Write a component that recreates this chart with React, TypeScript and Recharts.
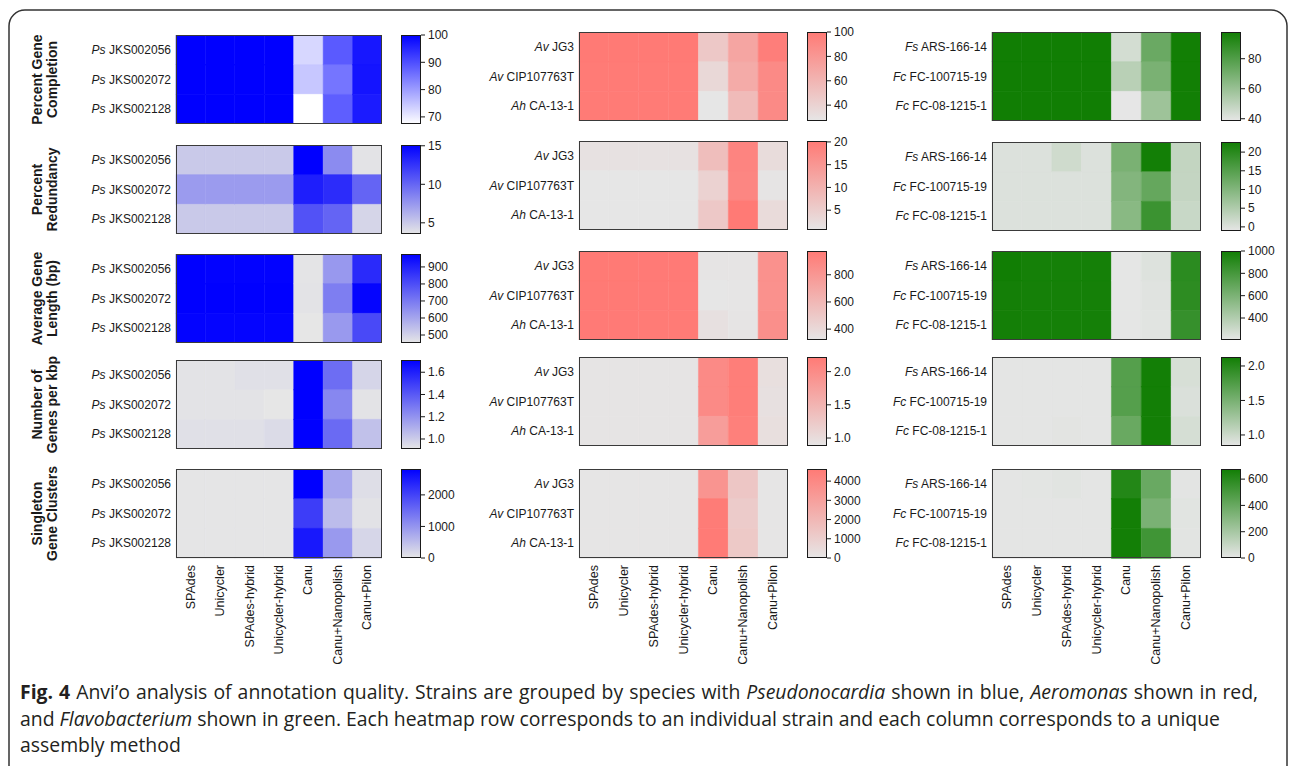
import React from "react";
import { BarChart, Bar, XAxis, YAxis, Cell } from "recharts";

const METHODS = [
  "SPAdes",
  "Unicycler",
  "SPAdes-hybrid",
  "Unicycler-hybrid",
  "Canu",
  "Canu+Nanopolish",
  "Canu+Pilon",
];

const METRICS = [
  ["Percent Gene", "Completion"],
  ["Percent", "Redundancy"],
  ["Average Gene", "Length (bp)"],
  ["Number of", "Genes per kbp"],
  ["Singleton", "Gene Clusters"],
];

// strains (species abbreviation, strain id)
const PS_STRAINS = [["Ps", "JKS002056"], ["Ps", "JKS002072"], ["Ps", "JKS002128"]];
const AE_STRAINS = [["Av", "JG3"], ["Av", "CIP107763T"], ["Ah", "CA-13-1"]];
const FL_STRAINS = [["Fs", "ARS-166-14"], ["Fc", "FC-100715-19"], ["Fc", "FC-08-1215-1"]];

// Pseudonocardia (blue)
const PS_COMPLETION = [
  [100, 100, 100, 100, 72.5, 88.5, 97],
  [100, 100, 100, 100, 74.5, 85, 97.5],
  [100, 100, 100, 100, 67.4, 88, 96.5],
];
const PS_REDUNDANCY = [
  [5.0, 5.0, 5.0, 5.0, 15.1, 8.1, 3.7],
  [7.3, 7.3, 7.3, 7.3, 13.6, 12.9, 10.1],
  [5.0, 5.0, 5.0, 5.0, 11.0, 10.1, 4.4],
];
const PS_LENGTH = [
  [976, 972, 972, 972, 458, 630, 880],
  [976, 976, 976, 976, 460, 690, 965],
  [970, 968, 966, 968, 453, 628, 810],
];
const PS_GENES_KBP = [
  [0.92, 0.92, 0.93, 0.93, 1.71, 1.33, 0.97],
  [0.92, 0.92, 0.92, 0.91, 1.71, 1.24, 0.92],
  [0.93, 0.93, 0.93, 0.95, 1.71, 1.34, 1.04],
];
const PS_SINGLETONS = [
  [10, 10, 10, 10, 2820, 760, 100],
  [10, 10, 10, 10, 2070, 520, 50],
  [10, 10, 10, 10, 2530, 950, 200],
];
const PS_RANGES = [[67.4, 100], [3.55, 15.1], [453, 976], [0.91, 1.71], [0, 2820]];
const PS_TICKS = [[70, 80, 90, 100], [5, 10, 15], [500, 600, 700, 800, 900], [1.0, 1.2, 1.4, 1.6], [0, 1000, 2000]];

// Aeromonas (red)
const AE_COMPLETION = [
  [100, 100, 100, 100, 47, 71, 97],
  [99.5, 99.5, 99.5, 99.5, 36.5, 67, 89],
  [99.5, 99.5, 99.5, 99.5, 27, 56, 89],
];
const AE_REDUNDANCY = [
  [1.6, 1.6, 1.6, 1.6, 7.9, 18.3, 2.5],
  [0.7, 0.7, 0.7, 0.7, 4.3, 18, 1.0],
  [0.7, 0.7, 0.7, 0.7, 6, 20.2, 2.7],
];
const AE_LENGTH = [
  [975, 975, 972, 972, 330, 330, 837],
  [975, 975, 972, 972, 322, 326, 837],
  [972, 972, 968, 968, 356, 330, 845],
];
const AE_GENES_KBP = [
  [0.9, 0.9, 0.9, 0.9, 2.02, 2.17, 0.97],
  [0.9, 0.9, 0.9, 0.9, 2.02, 2.17, 0.95],
  [0.9, 0.9, 0.9, 0.9, 1.78, 2.15, 0.97],
];
const AE_SINGLETONS = [
  [40, 40, 50, 50, 3520, 1370, 40],
  [30, 60, 50, 40, 4530, 1160, 40],
  [30, 40, 40, 40, 4600, 1250, 40],
];
const AE_RANGES = [[27, 100], [0.65, 20.2], [320, 975], [0.88, 2.22], [0, 4630]];
const AE_TICKS = [[40, 60, 80, 100], [5, 10, 15, 20], [400, 600, 800], [1.0, 1.5, 2.0], [0, 1000, 2000, 3000, 4000]];

// Flavobacterium (green)
const FL_COMPLETION = [
  [97.8, 97.8, 97.8, 97.8, 43.8, 73, 97.5],
  [97.8, 97.8, 97.8, 97.8, 51, 68.7, 97.5],
  [97.8, 97.8, 97.8, 97.8, 38.5, 58.6, 97.5],
];
const FL_REDUNDANCY = [
  [0, 0, 1.5, 0, 11, 22.5, 2.8],
  [0, 0, 0, 0, 10, 13.3, 2.7],
  [0, 0, 0, 0, 9.3, 18, 2.2],
];
const FL_LENGTH = [
  [1000, 985, 985, 985, 205, 235, 903],
  [990, 985, 985, 985, 205, 225, 895],
  [990, 985, 985, 985, 205, 220, 860],
];
const FL_GENES_KBP = [
  [0.85, 0.85, 0.85, 0.85, 1.72, 2.12, 0.93],
  [0.85, 0.85, 0.85, 0.85, 1.72, 2.12, 0.91],
  [0.85, 0.85, 0.86, 0.85, 1.6, 2.12, 0.94],
];
const FL_SINGLETONS = [
  [5, 8, 15, 5, 620, 396, 10],
  [5, 5, 5, 5, 670, 342, 15],
  [5, 5, 5, 5, 670, 527, 12],
];
const FL_RANGES = [[38.5, 97.8], [-1.1, 22.7], [203, 1000], [0.84, 2.13], [0, 677]];
const FL_TICKS = [[40, 60, 80], [0, 5, 10, 15, 20], [400, 600, 800, 1000], [1.0, 1.5, 2.0], [0, 200, 400, 600]];

const GRAY = "#e6e6e6";
const FONT = "'Liberation Sans', Arial, Helvetica, sans-serif";
const CELL_H = 89;
const LABEL_W = 130;
const BAR_W = 20;
const AXIS_H = 112;

const PANELS = [
  {
    key: "ps",
    strains: PS_STRAINS,
    values: [PS_COMPLETION, PS_REDUNDANCY, PS_LENGTH, PS_GENES_KBP, PS_SINGLETONS],
    ranges: PS_RANGES,
    ticks: PS_TICKS,
    high: "#0000ff",
    lows: ["#ffffff", GRAY, GRAY, GRAY, GRAY],
    left: 176,
    width: 206,
    barLeft: 401,
    tops: [35, 145, 254, 360, 469],
  },
  {
    key: "ae",
    strains: AE_STRAINS,
    values: [AE_COMPLETION, AE_REDUNDANCY, AE_LENGTH, AE_GENES_KBP, AE_SINGLETONS],
    ranges: AE_RANGES,
    ticks: AE_TICKS,
    high: "#ff7a75",
    lows: [GRAY, GRAY, GRAY, GRAY, GRAY],
    left: 579,
    width: 209,
    barLeft: 807,
    tops: [32, 141, 251, 357, 469],
  },
  {
    key: "fl",
    strains: FL_STRAINS,
    values: [FL_COMPLETION, FL_REDUNDANCY, FL_LENGTH, FL_GENES_KBP, FL_SINGLETONS],
    ranges: FL_RANGES,
    ticks: FL_TICKS,
    high: "#117e04",
    lows: [GRAY, GRAY, GRAY, GRAY, GRAY],
    left: 992,
    width: 209,
    barLeft: 1221,
    tops: [32, 142, 251, 357, 469],
  },
];

function hexRgb(hex: string) {
  const n = parseInt(hex.slice(1), 16);
  return [(n >> 16) & 255, (n >> 8) & 255, n & 255];
}

function mix(low: string, high: string, t: number) {
  const k = Math.max(0, Math.min(1, t));
  const a = hexRgb(low);
  const b = hexRgb(high);
  const c = a.map((v, i) => Math.round(v + (b[i] - v) * k));
  return `rgb(${c[0]},${c[1]},${c[2]})`;
}

function StrainTick(props: any) {
  const { x, y, payload } = props;
  const [sp, ...rest] = String(payload.value).split(" ");
  return (
    <text x={x} y={y} textAnchor="end" dominantBaseline="central" fontSize={12} fill="#1a1a1a" fontFamily={FONT}>
      <tspan fontStyle="italic">{sp}</tspan>
      <tspan> {rest.join(" ")}</tspan>
    </text>
  );
}

function MethodTick(props: any) {
  const { x, y, payload } = props;
  const name = METHODS[Math.floor(payload.value)];
  return (
    <text
      transform={`translate(${x},${y}) rotate(-90)`}
      textAnchor="end"
      dominantBaseline="central"
      fontSize={12.5}
      fill="#1a1a1a"
      fontFamily={FONT}>
      {name}
    </text>
  );
}

function Heatmap({ strains, values, range, low, high, left, width, top, bottom }: any) {
  const rows = strains.map(([sp, id]: string[], i: number) => {
    const row: any = { name: `${sp} ${id}` };
    METHODS.forEach((_, j) => {
      row[`m${j}`] = 1;
      row[`v${j}`] = values[i][j];
    });
    return row;
  });
  const h = CELL_H + (bottom ? AXIS_H : 0);
  return (
    <div style={{ position: "absolute", left: left - LABEL_W, top, width: LABEL_W + width, height: h }}>
      <BarChart
        width={LABEL_W + width}
        height={h}
        data={rows}
        layout="vertical"
        margin={{ top: 0, right: 0, bottom: 0, left: 0 }}
        barCategoryGap={0}>
        <XAxis
          type="number"
          domain={[0, METHODS.length]}
          hide={!bottom}
          ticks={METHODS.map((_, j) => j + 0.5)}
          interval={0}
          height={AXIS_H}
          tickSize={0}
          tickMargin={7}
          tickLine={false}
          axisLine={false}
          tick={(p: any) => <MethodTick {...p} />}
        />
        <YAxis
          type="category"
          dataKey="name"
          width={LABEL_W}
          interval={0}
          tickSize={0}
          tickMargin={5}
          tickLine={false}
          axisLine={false}
          tick={(p: any) => <StrainTick {...p} />}
        />
        {METHODS.map((_, j) => (
          <Bar key={j} dataKey={`m${j}`} stackId="cells" isAnimationActive={false}>
            {rows.map((r: any, i: number) => (
              <Cell
                key={i}
                fill={mix(low, high, (r[`v${j}`] - range[0]) / (range[1] - range[0]))}
                stroke={mix(low, high, (r[`v${j}`] - range[0]) / (range[1] - range[0]))}
                strokeWidth={0.5}
              />
            ))}
          </Bar>
        ))}
      </BarChart>
      <div
        style={{
          position: "absolute",
          left: LABEL_W,
          top: 0,
          width,
          height: CELL_H,
          border: "1.5px solid #3a3a3a",
          boxSizing: "border-box",
          pointerEvents: "none",
        }}
      />
    </div>
  );
}

function ColorBar({ id, range, ticks, low, high, left, top, decimals }: any) {
  const pad = 8;
  return (
    <div style={{ position: "absolute", left, top: top - pad }}>
      <BarChart
        width={BAR_W + 50}
        height={CELL_H + pad * 2}
        data={[{ name: "scale", span: range }]}
        margin={{ top: pad, right: 0, bottom: pad, left: 0 }}
        barCategoryGap={0}>
        <defs>
          <linearGradient id={id} x1="0" y1="0" x2="0" y2="1">
            <stop offset="0%" stopColor={high} />
            <stop offset="100%" stopColor={low} />
          </linearGradient>
        </defs>
        <XAxis dataKey="name" hide />
        <YAxis
          orientation="right"
          type="number"
          domain={range}
          ticks={ticks}
          interval={0}
          allowDataOverflow
          width={50}
          tickSize={4}
          tickMargin={3}
          axisLine={false}
          tickLine={{ stroke: "#1a1a1a" }}
          tick={{ fontSize: 12, fill: "#1a1a1a", fontFamily: FONT }}
          tickFormatter={(v: number) => (decimals ? v.toFixed(1) : String(v))}
        />
        <Bar dataKey="span" fill={`url(#${id})`} isAnimationActive={false} />
      </BarChart>
      <div
        style={{
          position: "absolute",
          left: 0,
          top: pad,
          width: BAR_W,
          height: CELL_H,
          border: "1.5px solid #1a1a1a",
          boxSizing: "border-box",
          pointerEvents: "none",
        }}
      />
    </div>
  );
}

export default function App() {
  const blueTops = PANELS[0].tops;
  return (
    <div
      style={{
        position: "absolute",
        left: 0,
        top: 0,
        width: 1290,
        height: 766,
        overflow: "hidden",
        background: "#fff",
        fontFamily: FONT,
      }}>
      <svg width={1290} height={766} style={{ position: "absolute", left: 0, top: 0 }}>
        <rect x={9} y={10} width={1278} height={772} rx={16} fill="none" stroke="#333" strokeWidth={1.5} />
        {METRICS.map((lines, m) => (
          <text
            key={m}
            transform={`translate(44.5,${blueTops[m] + CELL_H / 2}) rotate(-90)`}
            textAnchor="middle"
            fontWeight="bold"
            fontSize={14}
            fill="#1a1a1a"
            fontFamily={FONT}>
            <tspan x={0} y={-2.5}>{lines[0]}</tspan>
            <tspan x={0} y={12.5}>{lines[1]}</tspan>
          </text>
        ))}
      </svg>

      {PANELS.map((p) =>
        METRICS.map((_, m) => (
          <React.Fragment key={`${p.key}-${m}`}>
            <Heatmap
              strains={p.strains}
              values={p.values[m]}
              range={p.ranges[m]}
              low={p.lows[m]}
              high={p.high}
              left={p.left}
              width={p.width}
              top={p.tops[m]}
              bottom={m === METRICS.length - 1}
            />
            <ColorBar
              id={`grad-${p.key}-${m}`}
              range={p.ranges[m]}
              ticks={p.ticks[m]}
              low={p.lows[m]}
              high={p.high}
              left={p.barLeft}
              top={p.tops[m]}
              decimals={m === 3}
            />
          </React.Fragment>
        ))
      )}

      <div
        style={{
          position: "absolute",
          left: 20,
          top: 679,
          fontFamily: "'Open Sans', 'Noto Sans', sans-serif",
          fontSize: 19.4,
          lineHeight: "26.5px",
          color: "#231f20",
          whiteSpace: "nowrap",
        }}>
        <div style={{ wordSpacing: 1 }}>
          <b>Fig. 4</b> Anvi’o analysis of annotation quality. Strains are grouped by species with{" "}
          <i>Pseudonocardia</i> shown in blue, <i>Aeromonas</i> shown in red,
        </div>
        <div>
          and <i>Flavobacterium</i> shown in green. Each heatmap row corresponds to an individual strain and each
          column corresponds to a unique
        </div>
        <div>assembly method</div>
      </div>
    </div>
  );
}
